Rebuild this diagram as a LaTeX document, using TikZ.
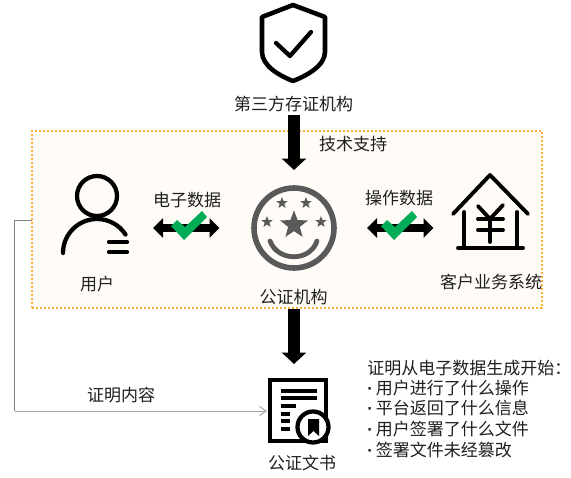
\documentclass[tikz,border=0pt]{standalone}
\usepackage{fontspec}
\setmainfont{Noto Sans CJK SC}
\newfontfamily\dotfont{Liberation Sans}
\usetikzlibrary{arrows.meta,shapes.geometric}
\definecolor{dotorange}{HTML}{FFB03A}
\definecolor{boxfill}{HTML}{FFFCF7}
\definecolor{okgreen}{HTML}{00AD56}
\definecolor{stampgray}{HTML}{595959}
\newcommand{\bulletdot}{{\dotfont\bfseries ·}}
\tikzset{
  lbl/.style={font=\fontsize{12.75pt}{14pt}\selectfont,text=black!88,inner sep=0pt},
  icon/.style={line width=3.2pt,line cap=round,line join=round},
  thinicon/.style={line width=2.9pt,line cap=round,line join=round},
  fatdown/.style={line width=9pt,-{Triangle[length=8.6pt,width=18pt]}},
  fatboth/.style={line width=6.4pt,{Triangle[length=7.5pt,width=14.5pt]}-{Triangle[length=7.5pt,width=14.5pt]}},
  tick/.style={fill=okgreen,draw=none},
  stampstar/.style={star,star points=5,star point ratio=2.4,fill=stampgray,inner sep=0pt},
  thinline/.style={line width=0.75pt}
}
\begin{document}
\begin{tikzpicture}[x=0.75pt,y=-0.75pt]
\useasboundingbox (0,0) rectangle (571,478);
\fill[white] (0,0) rectangle (571,478);
% dotted panel
\node[draw=dotorange,fill=boxfill,line width=2pt,dash pattern=on 1.8pt off 1.2pt,inner sep=0pt,
  minimum width=382.5pt,minimum height=132.75pt] (panel) at (287,219.5) {};
% shield
\draw[icon,line width=3.4pt] (293,5) -- (325,17) -- (325,52) .. controls (325,66) and (306,76) .. (293,81) .. controls (280,76) and (262,66) .. (262,52) -- (262,17) -- cycle;
\draw[icon] (276,43) -- (290,56) -- (311,32);
\node[lbl] (third) at (293.5,104) {第三方存证机构};
% person
\draw[icon] (97,196) circle (20);
\draw[icon] (63,253) arc (180:327:34);
\draw[icon] (109,242) -- (127,242);
\draw[icon] (109,252) -- (127,252);
\node[lbl] (user) at (97,284) {用户};
% stamp
\draw[stampgray,line width=4.2pt] (294,228) circle (40);
\node[stampstar,minimum size=22pt] (s0) at (294,225) {};
\node[stampstar,minimum size=9pt] (s1) at (282,203) {};
\node[stampstar,minimum size=9pt] (s2) at (306,203) {};
\node[stampstar,minimum size=9pt] (s3) at (267,222) {};
\node[stampstar,minimum size=9pt] (s4) at (321,222) {};
\draw[stampgray,line width=3.6pt,line cap=round] (270,241) .. controls (278,262) and (310,262) .. (317,241);
\node[lbl] (notary) at (293.5,297) {公证机构};
% house
\draw[thinicon] (453,214) -- (490,175) -- (528,214);
\draw[thinicon] (464,212) -- (464,248);
\draw[thinicon] (517,212) -- (517,248);
\draw[thinicon] (458,248) -- (523,248);
\draw[thinicon] (478,206) -- (490,219) -- (503,205);
\draw[thinicon] (490,219) -- (490,242);
\draw[thinicon] (478,219) -- (503,219);
\draw[thinicon] (478,230) -- (503,230);
\node[lbl] (client) at (491,282) {客户业务系统};
% document
\draw[line width=3.4pt] (270,380) rectangle (326,441);
\foreach \yy/\xe in {391/317,398/317,406/296,414/290,421/290,429/290}
  \draw[line width=2.4pt] (281,\yy) -- (\xe,\yy);
\draw[line width=3.2pt,fill=white] (313,427) circle (15.5);
\fill (308,419) -- (319,419) -- (319,436) -- (313.5,431) -- (308,436) -- cycle;
\node[lbl] (deed) at (302,463) {公证文书};
% labels
\node[lbl] (tech) at (353,144) {技术支持};
\node[lbl] (edata) at (187,200) {电子数据};
\node[lbl] (opdata) at (399,198) {操作数据};
\node[lbl] (proof) at (121,395) {证明内容};
\node[lbl,anchor=west] (l0) at (367,368) {证明从电子数据生成开始：};
\node[lbl,anchor=west] (l1) at (367,388) {\bulletdot\,用户进行了什么操作};
\node[lbl,anchor=west] (l2) at (367,408) {\bulletdot\,平台返回了什么信息};
\node[lbl,anchor=west] (l3) at (367,429) {\bulletdot\,用户签署了什么文件};
\node[lbl,anchor=west] (l4) at (367,450) {\bulletdot\,签署文件未经篡改};
% connectors
\coordinate (a1s) at (294,115); \coordinate (a1e) at (294,170);
\coordinate (a2s) at (294,309); \coordinate (a2e) at (294,364);
\draw[fatdown] (a1s) -- (a1e);
\draw[fatdown] (a2s) -- (a2e);
\coordinate (b1l) at (153,228); \coordinate (b1r) at (219.5,228);
\coordinate (b2l) at (367,228); \coordinate (b2r) at (433.5,228);
\draw[fatboth] (b1l) -- (b1r);
\draw[fatboth] (b2l) -- (b2r);
\fill[tick] (171,226) -- (177,220) -- (185,227) -- (202,211) -- (207,217) -- (184,240) -- cycle;
\fill[tick] (381,226) -- (387,220) -- (395,227) -- (412,211) -- (417,217) -- (394,240) -- cycle;
\coordinate (pl) at (32,220);
\coordinate (c1) at (14.5,220);
\coordinate (c2) at (14.5,411);
\coordinate (dl) at (267,411);
\draw[thinline,color=black!50] (pl) -- (c1) -- (c2);
\draw[thinline,color=black!35,-{Straight Barb[length=5pt,width=7pt]}] (c2) -- (dl);
\end{tikzpicture}
\end{document}
